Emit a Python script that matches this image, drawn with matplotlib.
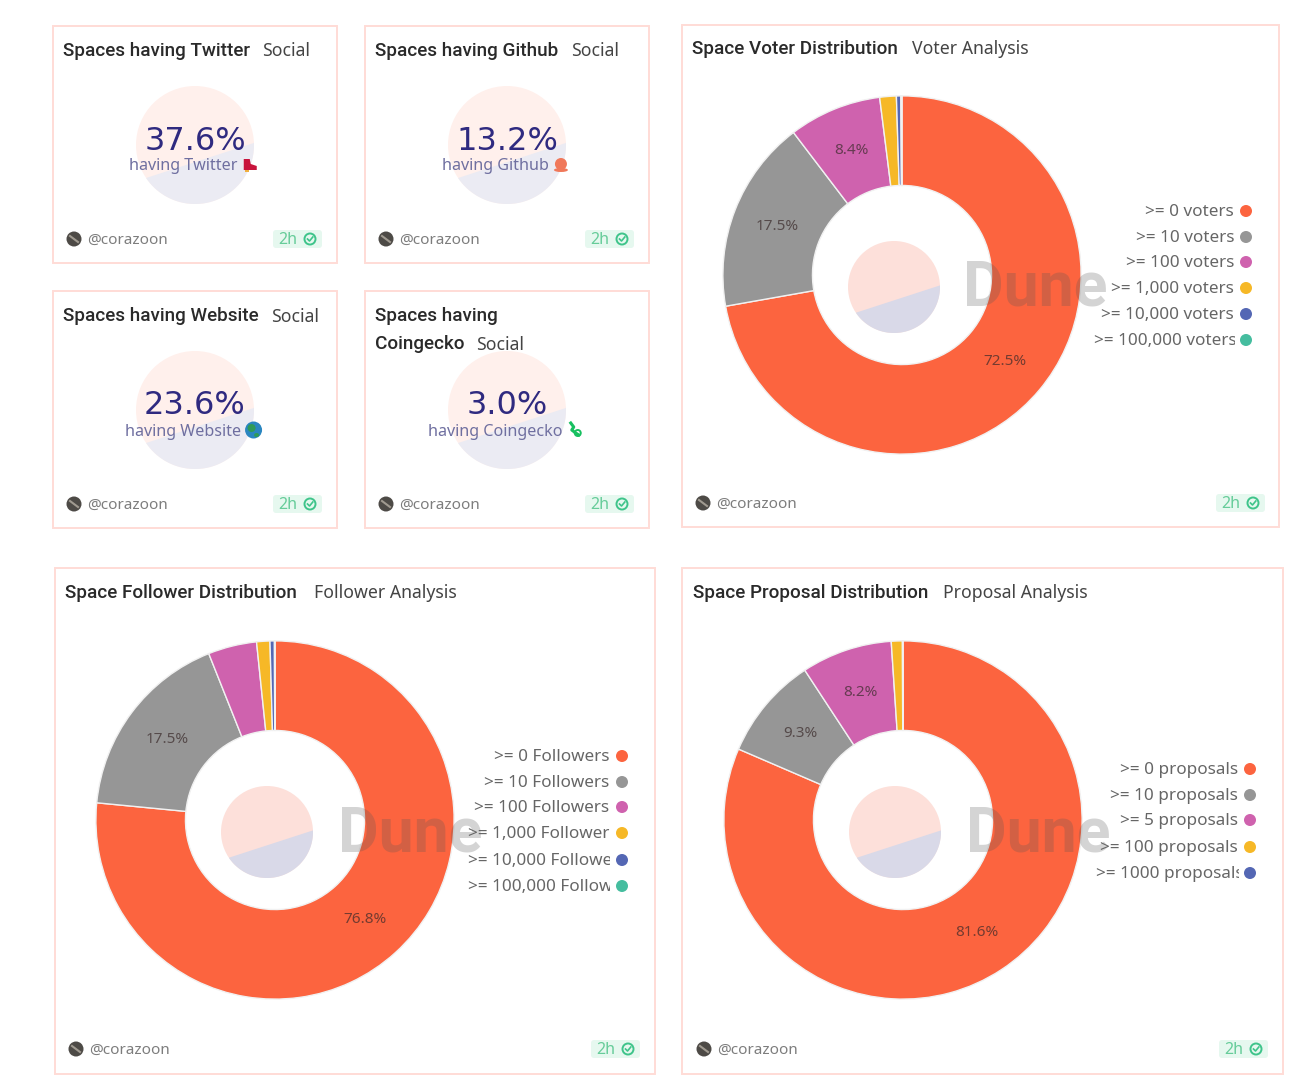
import matplotlib
matplotlib.use("Agg")
import matplotlib.pyplot as plt
from matplotlib.patches import Rectangle, FancyBboxPatch, Circle, Polygon, Ellipse
import numpy as np

plt.rcParams['font.family'] = ['Noto Sans', 'DejaVu Sans']

W, H = 1314, 1092

colors = ['#fc643f', '#969696', '#cf62ae', '#f6b827', '#5467b4', '#45bd9f']

voter_labels = ['>= 0 voters', '>= 10 voters', '>= 100 voters', '>= 1,000 voters', '>= 10,000 voters', '>= 100,000 voters']
voter_values = [72.5, 17.5, 8.4, 1.5, 0.4, 0.1]

follower_labels = ['>= 0 Followers', '>= 10 Followers', '>= 100 Followers', '>= 1,000 Followers', '>= 10,000 Followers', '>= 100,000 Followers']
follower_values = [76.8, 17.5, 4.4, 1.2, 0.4, 0.05]

proposal_labels = ['>= 0 proposals', '>= 10 proposals', '>= 5 proposals', '>= 100 proposals', '>= 1000 proposals']
proposal_values = [81.6, 9.3, 8.2, 1.0, 0.05]

counter_titles = ['Spaces having Twitter', 'Spaces having Github', 'Spaces having Website', 'Spaces having\nCoingecko']
counter_values = ['37.6%', '13.2%', '23.6%', '3.0%']
counter_labels = ['having Twitter', 'having Github', 'having Website', 'having Coingecko']

fig = plt.figure(figsize=(W / 100, H / 100), dpi=100, facecolor='white')


def full_axes(z):
    a = fig.add_axes([0, 0, 1, 1], zorder=z)
    a.set_xlim(0, W)
    a.set_ylim(H, 0)
    a.axis('off')
    a.patch.set_alpha(0)
    return a


bg = full_axes(0)
top = full_axes(2)


def card(x0, y0, x1, y1):
    bg.add_patch(Rectangle((x0, y0), x1 - x0, y1 - y0, fc='white', ec='#ffdcd6', lw=1.4))


def logo(cx, cy, r, c1, c2):
    # circle with the lower part cut off by a chord
    bg.add_patch(Circle((cx, cy), r, fc=c1, ec='none'))
    t = np.radians(np.linspace(-2, 146, 80))
    bg.add_patch(Polygon(np.c_[cx + r * np.cos(t), cy + r * np.sin(t)], fc=c2, ec='none'))


def footer(x_name, x_badge, y):
    a = top
    a.add_patch(Circle((x_name - 14, y), 7.5, fc='#4d4a46', ec='none'))
    a.plot([x_name - 18, x_name - 10], [y - 3, y + 3], color='#a09a90', lw=1.5)
    a.text(x_name - 1, y + 1.5, '@corazoon', fontsize=11, color='#7d7d7d', va='center', ha='left')
    a.add_patch(FancyBboxPatch((x_badge, y - 9), 49, 18, boxstyle='round,pad=0,rounding_size=3',
                               fc='#e6f8ef', ec='none'))
    a.text(x_badge + 5, y + 1, '2h', fontsize=11.5, color='#66cc99', va='center', ha='left')
    a.add_patch(Circle((x_badge + 37, y), 5.5, fc='none', ec='#3ec48a', lw=1.4))
    a.plot([x_badge + 34.5, x_badge + 36.5, x_badge + 39.8], [y, y + 2, y - 2], color='#3ec48a', lw=1.2)


def title(x, y, main, sub, x_sub, line_gap=28):
    lines = main.split('\n')
    for n, line in enumerate(lines):
        bg.text(x, y + 1 + n * line_gap, line, fontsize=13.6, fontfamily='Roboto', fontweight='medium',
                color='#2a2a2a', va='center', ha='left')
    bg.text(x_sub, y + 1.5 + (len(lines) - 1) * line_gap, sub, fontsize=12.7, color='#444444',
            va='center', ha='left')


def donut(cx, cy, r, values, labels, legend_ys, x_dot, x_right, x_left, x_dune, y_dune):
    a = fig.add_axes([(cx - r) / W, 1 - (cy + r) / H, 2 * r / W, 2 * r / H], zorder=1)
    pct = [f'{v:.1f}%' if v >= 8 else '' for v in values]
    wedges, texts = a.pie(values, colors=colors, startangle=90, counterclock=False, radius=1,
                          labels=pct, labeldistance=0.75,
                          wedgeprops={'width': 0.5, 'edgecolor': '#f1f1f1', 'linewidth': 1.0})
    for t in texts:
        t.set_ha('center')
        t.set_va('center')
        t.set_fontsize(11)
        t.set_color('#3a2a2a')
        t.set_alpha(0.7)
    a.set_xlim(-1.005, 1.005)
    a.set_ylim(-1.005, 1.005)
    a.patch.set_alpha(0)

    logo(cx - 8, cy + 12, 46, '#fde0da', '#d9d9e8')
    top.text(x_dune, y_dune, 'Dune', fontsize=45, fontfamily='Roboto', fontweight='bold', color='#555555',
             alpha=0.25, va='center', ha='left')

    clip_w = x_right - x_left
    rend = fig.canvas.get_renderer()
    for lab, y, c in zip(labels, legend_ys, colors):
        t = top.text(x_right, y + 1, lab, fontsize=12.3, color='#666666', va='center', ha='right')
        if t.get_window_extent(rend).width > clip_w:
            t.set_ha('left')
            t.set_x(x_left)
            t.set_clip_on(True)
            t.set_clip_path(Rectangle((x_left, y - 15), clip_w + 1, 30, transform=top.transData))
        top.add_patch(Circle((x_dot, y), 6, fc=c, ec='none'))


def icon(kind, x, y):
    # the small emoji after each counter label
    if kind == 0:
        top.add_patch(Polygon([[x - 6, y - 6], [x, y - 6], [x + 1, y - 1], [x + 7, y + 1], [x + 7, y + 5], [x - 6, y + 5]],
                              fc='#c8143c', ec='none'))
        top.add_patch(Rectangle((x - 5, y + 5), 4, 2, fc='#f0b040', ec='none'))
    elif kind == 1:
        top.add_patch(Circle((x, y - 1), 6, fc='#f0785a', ec='none'))
        top.add_patch(Ellipse((x, y + 5), 14, 4, fc='#f0785a', ec='none'))
    elif kind == 2:
        top.add_patch(Circle((x, y), 8.5, fc='#2a86c0', ec='none'))
        top.add_patch(Ellipse((x - 2, y - 2), 8, 8, fc='#2f9a58', ec='none'))
        top.add_patch(Ellipse((x + 3, y + 5), 5, 4, fc='#2f9a58', ec='none'))
    else:
        top.plot([x - 4, x - 1, x - 3, x + 1, x + 4], [y - 7, y - 3, y, y + 3, y + 5], color='#18c060', lw=2.2)
        top.add_patch(Circle((x + 3, y + 3), 3, fc='none', ec='#18c060', lw=1.4))


# the four small counters
small_x = [53, 365, 53, 365]
small_y = [26, 26, 291, 291]
sub_x = [262, 571, 271, 476]
for i in range(4):
    x0, y0 = small_x[i], small_y[i]
    card(x0, y0, x0 + 284, y0 + 237)
    cx, cy = x0 + 142, y0 + 119
    logo(cx, cy, 59, '#fff0ec', '#ebebf3')
    title(x0 + 10, y0 + 24, counter_titles[i], 'Social', sub_x[i])
    top.text(cx, cy - 4, counter_values[i], fontsize=23, color='#2f2a80', va='center', ha='center',
             family=['DejaVu Sans'])
    lab = top.text(cx - 11.5, cy + 21.5, counter_labels[i], fontsize=11.6, color='#6f6fa0', va='center', ha='center')
    ext = lab.get_window_extent(fig.canvas.get_renderer())
    icon(i, ext.x1 + 12, cy + 20)
    footer(x0 + 35, x0 + 220, y0 + 213)

# voters
card(682, 25, 1279, 527)
title(692, 48, 'Space Voter Distribution', 'Voter Analysis', 912)
donut(902, 275, 180, voter_values, voter_labels, [211, 237, 262, 288, 314, 340], 1246, 1234, 1094, 963, 289)
footer(717, 1216, 503)

# followers
card(55, 568, 655, 1074)
title(65, 592, 'Space Follower Distribution', 'Follower Analysis', 314)
donut(275, 820, 180, follower_values, follower_labels, [756, 782, 807, 833, 860, 886], 622, 609, 468, 338, 834)
footer(90, 591, 1049)

# proposals
card(682, 568, 1283, 1074)
title(693, 592, 'Space Proposal Distribution', 'Proposal Analysis', 943)
donut(903, 820, 180, proposal_values, proposal_labels, [769, 795, 820, 847, 873], 1250, 1238, 1096, 966, 834)
footer(718, 1219, 1049)

fig.savefig('out.png', dpi=100)
